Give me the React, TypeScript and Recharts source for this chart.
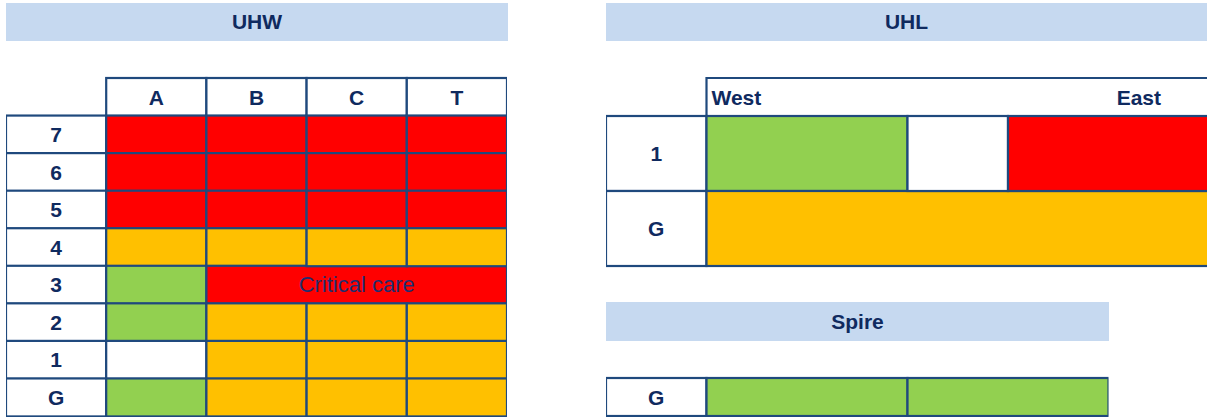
import React from 'react';
import { BarChart, Bar, XAxis, YAxis } from 'recharts';

const FONT = 'Arial, "Liberation Sans", sans-serif';
const NAVY = '#1F497D';
const INK = '#0F2A5F';
const BAND = '#C6D9F0';
const SW = 2.2;
const PAD = 2;
const COLORS: Record<string, string> = { R: '#FF0000', O: '#FFC000', G: '#92D050', W: '#FFFFFF' };

// UHW: '-' means merged into the cell on its left
const UHW_COLS = ['A', 'B', 'C', 'T'];
const UHW_ROWS = ['7', '6', '5', '4', '3', '2', '1', 'G'];
const UHW_STATUS = [
  ['R', 'R', 'R', 'R'],
  ['R', 'R', 'R', 'R'],
  ['R', 'R', 'R', 'R'],
  ['O', 'O', 'O', 'O'],
  ['G', 'R', '-', '-'],
  ['G', 'O', 'O', 'O'],
  ['W', 'O', 'O', 'O'],
  ['G', 'O', 'O', 'O'],
];
const UHW_NOTES: Record<string, string> = { '3:B': 'Critical care' };

// UHL
const UHL_HEAD = ['West', 'East'];
const UHL_HEAD_SPAN = [3, 2];
const UHL_HEAD_ALIGN = ['left', 'right'];
const UHL_ROWS = ['1', 'G'];
const UHL_STATUS = [['G', 'W', 'R'], ['O']];
const UHL_SPAN = [[2, 1, 2], [5]];

// Spire
const SPIRE_ROWS = ['G'];
const SPIRE_STATUS = [['G', 'G']];
const SPIRE_SPAN = [[2, 2]];

type Spec = {
  span: number;
  fill: string;
  edges: 'all' | 'none' | 'tl' | 't';
  text?: string;
  bold?: boolean;
  align?: string;
};
type Row = { id: string; cells: Spec[] };

const labelCell = (t: string): Spec => ({ span: 1, fill: '#fff', edges: 'all', text: t, bold: true });
const blankCell: Spec = { span: 1, fill: 'none', edges: 'none' };

const uhwRows: Row[] = [
  { id: 'hdr', cells: [blankCell, ...UHW_COLS.map((c) => labelCell(c))] },
  ...UHW_ROWS.map((r, i) => {
    const cells: Spec[] = [labelCell(r)];
    let owner = 0;
    UHW_STATUS[i].forEach((s, j) => {
      if (s === '-') {
        cells[owner].span += 1;
        cells.push({ span: 0, fill: 'none', edges: 'none' });
      } else {
        const note = UHW_NOTES[`${r}:${UHW_COLS[j]}`];
        cells.push({ span: 1, fill: COLORS[s], edges: 'all', text: note, bold: false });
        owner = cells.length - 1;
      }
    });
    return { id: r, cells };
  }),
];

const uhlHead: Row[] = [
  {
    id: 'hdr',
    cells: [
      blankCell,
      ...UHL_HEAD.map((h, i) => ({
        span: UHL_HEAD_SPAN[i],
        fill: '#fff',
        edges: (i === 0 ? 'tl' : 't') as Spec['edges'],
        text: h,
        bold: true,
        align: UHL_HEAD_ALIGN[i],
      })),
    ],
  },
];

const uhlRows: Row[] = UHL_ROWS.map((r, i) => ({
  id: r,
  cells: [labelCell(r), ...UHL_STATUS[i].map((s, j) => ({ span: UHL_SPAN[i][j], fill: COLORS[s], edges: 'all' as const }))],
}));

const spireRows: Row[] = SPIRE_ROWS.map((r, i) => ({
  id: r,
  cells: [labelCell(r), ...SPIRE_STATUS[i].map((s, j) => ({ span: SPIRE_SPAN[i][j], fill: COLORS[s], edges: 'all' as const }))],
}));

const drawCell = (p: any, i: number) => {
  const spec: Spec | undefined = p.payload?.specs?.[i];
  const { x, y, width, height } = p;
  if (!spec || !(width > 0)) return <g />;
  const line = { stroke: NAVY, strokeWidth: SW, fill: 'none' };
  let tx = x + width / 2;
  let anchor: 'middle' | 'start' | 'end' = 'middle';
  if (spec.align === 'left') {
    tx = x + 5;
    anchor = 'start';
  } else if (spec.align === 'right') {
    tx = x + width - 48;
    anchor = 'end';
  }
  return (
    <g>
      <rect
        x={x}
        y={y}
        width={width}
        height={height}
        fill={spec.fill}
        stroke={spec.edges === 'all' ? NAVY : 'none'}
        strokeWidth={SW}
      />
      {spec.edges === 'tl' && <polyline points={`${x},${y + height} ${x},${y} ${x + width},${y}`} {...line} />}
      {spec.edges === 't' && <line x1={x} y1={y} x2={x + width} y2={y} {...line} />}
      {spec.text && (
        <text
          x={tx}
          y={y + height / 2}
          textAnchor={anchor}
          dominantBaseline="central"
          fontFamily={FONT}
          fontSize={spec.bold ? 21 : 22}
          fontWeight={spec.bold ? 'bold' : 'normal'}
          fill={spec.bold ? INK : '#1F2E6E'}
        >
          {spec.text}
        </text>
      )}
    </g>
  );
};

const GridChart = ({ rows, units, x, y, w, h }: { rows: Row[]; units: number; x: number; y: number; w: number; h: number }) => {
  const n = Math.max(...rows.map((r) => r.cells.length));
  const keys = Array.from({ length: n }, (_, i) => `c${i}`);
  const data = rows.map((r) => {
    const o: any = { row: r.id, specs: r.cells };
    keys.forEach((k, i) => {
      o[k] = r.cells[i] ? r.cells[i].span : 0;
    });
    return o;
  });
  return (
    <div style={{ position: 'absolute', left: x - PAD, top: y - PAD }}>
      <BarChart
        width={w + 2 * PAD}
        height={h + 2 * PAD}
        data={data}
        layout="vertical"
        margin={{ top: PAD, right: PAD, bottom: PAD, left: PAD }}
        barCategoryGap={0}
        barGap={0}
      >
        <XAxis type="number" domain={[0, units]} hide allowDataOverflow />
        <YAxis type="category" dataKey="row" hide />
        {keys.map((k, i) => (
          <Bar key={k} dataKey={k} stackId="t" isAnimationActive={false} shape={(p: any) => drawCell(p, i)} />
        ))}
      </BarChart>
    </div>
  );
};

const TitleBand = ({ text, x, y, w, h }: { text: string; x: number; y: number; w: number; h: number }) => (
  <div
    style={{
      position: 'absolute',
      left: x,
      top: y,
      width: w,
      height: h,
      lineHeight: `${h}px`,
      background: BAND,
      color: INK,
      fontFamily: FONT,
      fontWeight: 'bold',
      fontSize: 21,
      textAlign: 'center',
    }}
  >
    {text}
  </div>
);

export default function App() {
  return (
    <div style={{ position: 'absolute', left: 0, top: 0, width: 1207, height: 417, overflow: 'hidden', background: '#fff' }}>
      <TitleBand text="UHW" x={6} y={3} w={502} h={38} />
      <TitleBand text="UHL" x={606} y={3} w={601} h={38} />
      <TitleBand text="Spire" x={606} y={302} w={503} h={39} />
      <GridChart rows={uhwRows} units={5} x={6} y={78} w={501} h={338} />
      <GridChart rows={uhlHead} units={6} x={606} y={78} w={603} h={38} />
      <GridChart rows={uhlRows} units={6} x={606} y={116} w={603} h={150} />
      <GridChart rows={spireRows} units={5} x={606} y={378} w={502.5} h={38} />
    </div>
  );
}
